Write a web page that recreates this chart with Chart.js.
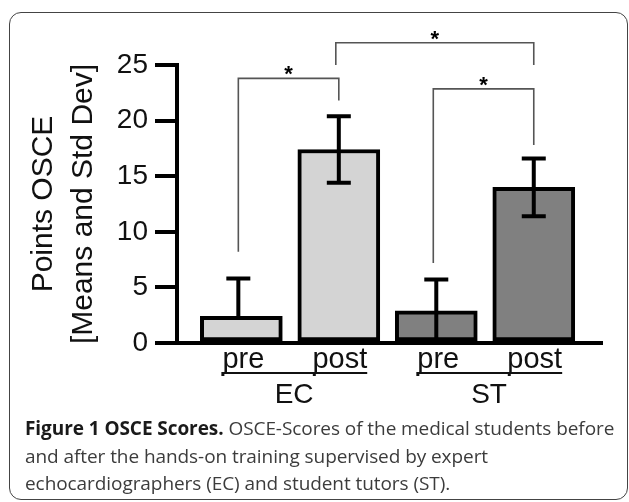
<!DOCTYPE html>
<html>
<head>
<meta charset="utf-8">
<script src="https://cdn.jsdelivr.net/npm/chart.js@4"></script>
<style>
  body { margin: 0; background: #fff; }
  .wrap { position: relative; width: 629px; height: 502px; overflow: hidden; }
  .frame {
    position: absolute; left: 9px; top: 12px; width: 619px; height: 488px;
    box-sizing: border-box; border: 1.5px solid #444; border-radius: 12px;
  }
  canvas { position: absolute; left: 0; top: 0; }
  .caption {
    position: absolute; left: 25px; top: 415px; width: 600px;
    font-family: "Open Sans", sans-serif; font-size: 19px; line-height: 27.5px;
    color: #3c3c3c; letter-spacing: -0.07px; white-space: nowrap;
  }
  .caption b { color: #1a1a1a; font-weight: 700; }
</style>
</head>
<body>
<div class="wrap">
  <div class="frame"></div>
  <canvas id="osce" width="629" height="502"></canvas>
  <div class="caption">
    <b>Figure 1 OSCE Scores.</b> OSCE-Scores of the medical students before<br>
    and after the hands-on training supervised by expert<br>
    echocardiographers (EC) and student tutors (ST).
  </div>
</div>
<script>
// values
const groups = ["EC", "ST"];
const phases = ["pre", "post"];
const ecMeans = [2.4, 17.4];
const ecSD = [3.4, 3.0];
const stMeans = [2.9, 14.0];
const stSD = [2.8, 2.6];
const yTitle = ["Points OSCE", "[Means and Std Dev]"];

// significance brackets: bar indices, bracket level, leg ends (axis units)
const sigPairs = [[0, 1], [1, 3], [2, 3]];
const sigLevels = [23.8, 27.0, 22.85];
const sigLegs = [[8.2, 21.8], [25.0, 25.0], [7.2, 17.8]];
const sigMarks = ["*", "*", "*"];

const FONT = "'Liberation Sans', Arial, sans-serif";
Chart.defaults.font.family = FONT;
Chart.defaults.color = "#111";

const toPoints = (means, offset) => means.map((m, i) => ({ x: offset + i + 1, y: m }));

const annotate = {
  id: "annotate",
  afterDatasetsDraw(chart) {
    const { ctx } = chart;
    const y = chart.scales.y;
    const bars = [];
    const sds = [ecSD, stSD];
    const means = [ecMeans, stMeans];
    chart.data.datasets.forEach((ds, d) => {
      chart.getDatasetMeta(d).data.forEach((el, i) => {
        bars.push({ x: el.x, mean: means[d][i], sd: sds[d][i] });
      });
    });

    ctx.save();
    // error bars
    ctx.strokeStyle = "#000";
    ctx.lineWidth = 4;
    bars.forEach((b) => {
      const top = y.getPixelForValue(b.mean + b.sd);
      const hasLow = b.mean - b.sd >= 0;
      const low = y.getPixelForValue(hasLow ? b.mean - b.sd : b.mean);
      const bx = hasLow ? b.x : b.x - 3;
      ctx.beginPath();
      ctx.moveTo(bx, top);
      ctx.lineTo(bx, low);
      ctx.moveTo(bx - 12, top);
      ctx.lineTo(bx + 12, top);
      if (hasLow) {
        ctx.moveTo(bx - 12, low);
        ctx.lineTo(bx + 12, low);
      }
      ctx.stroke();
    });

    // significance brackets
    ctx.strokeStyle = "#555";
    ctx.lineWidth = 1.6;
    ctx.fillStyle = "#000";
    ctx.font = "bold 22px " + FONT;
    ctx.textAlign = "center";
    ctx.textBaseline = "alphabetic";
    sigPairs.forEach(([a, b], k) => {
      const xa = bars[a].x - 3, xb = bars[b].x;
      const lv = y.getPixelForValue(sigLevels[k]);
      ctx.beginPath();
      ctx.moveTo(xa, y.getPixelForValue(sigLegs[k][0]));
      ctx.lineTo(xa, lv);
      ctx.lineTo(xb, lv);
      ctx.lineTo(xb, y.getPixelForValue(sigLegs[k][1]));
      ctx.stroke();
      ctx.fillText(sigMarks[k], (xa + xb) / 2, lv + 3);
    });

    // category labels
    const base = chart.chartArea.bottom;
    ctx.fillStyle = "#111";
    ctx.strokeStyle = "#111";
    groups.forEach((g, gi) => {
      ctx.font = "29px " + FONT;
      const xs = [bars[gi * 2].x, bars[gi * 2 + 1].x];
      phases.forEach((p, j) => ctx.fillText(p, xs[j] + (j === 0 ? 2 : 1), base + 25));
      const left = xs[0] + 2 - ctx.measureText(phases[0]).width / 2;
      const right = xs[1] + 1 + ctx.measureText(phases[1]).width / 2;
      ctx.lineWidth = 2;
      ctx.beginPath();
      ctx.moveTo(left, base + 30);
      ctx.lineTo(right, base + 30);
      ctx.stroke();
      ctx.fillRect(left - 1, base + 29, 3, 4);
      ctx.fillRect(xs[1] - 26, base + 29, 3, 4);
      ctx.font = "28px " + FONT;
      ctx.fillText(g, (xs[0] + xs[1]) / 2 + 4, base + 60);
    });
    ctx.restore();
  },
};

new Chart(document.getElementById("osce").getContext("2d"), {
  type: "bar",
  data: {
    datasets: [
      {
        label: groups[0],
        data: toPoints(ecMeans, 0),
        backgroundColor: "#d4d4d4",
        borderColor: "#000",
        borderWidth: 4,
        borderSkipped: false,
        barThickness: 82,
        grouped: false,
      },
      {
        label: groups[1],
        data: toPoints(stMeans, 2),
        backgroundColor: "#808080",
        borderColor: "#000",
        borderWidth: 4,
        borderSkipped: false,
        barThickness: 82,
        grouped: false,
      },
    ],
  },
  options: {
    responsive: false,
    animation: false,
    layout: { padding: { top: 65, right: 27, bottom: 0, left: 0 } },
    plugins: { legend: { display: false }, tooltip: { enabled: false } },
    scales: {
      x: {
        type: "linear",
        offset: false,
        min: 0.34,
        max: 4.7,
        grid: { display: false },
        ticks: { display: false },
        border: { display: true, color: "#000", width: 4 },
        afterFit: (s) => { s.height = 159; },
      },
      y: {
        min: 0,
        max: 25,
        ticks: { stepSize: 5, padding: 7, color: "#111", font: { size: 28 } },
        grid: { drawOnChartArea: false, drawTicks: true, tickLength: 22, lineWidth: 4, color: "#000" },
        border: { color: "#000", width: 4 },
        title: {
          display: true,
          text: yTitle,
          color: "#111",
          font: { size: 30, lineHeight: "40px" },
          padding: { top: 24, bottom: 0 },
        },
        afterFit: (s) => { s.width = 177; },
      },
    },
  },
  plugins: [annotate],
});
</script>
</body>
</html>
